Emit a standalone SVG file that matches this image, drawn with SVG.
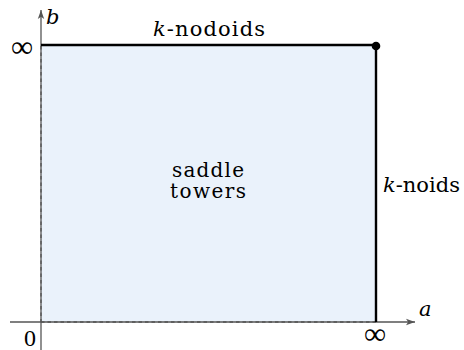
<svg xmlns="http://www.w3.org/2000/svg" width="464" height="350" viewBox="0 0 464 350">
  <defs>
    <marker id="arrow" markerWidth="10" markerHeight="8" refX="9" refY="4" orient="auto" markerUnits="userSpaceOnUse">
      <path d="M0,0.8 L9,4 L0,7.2 L2.2,4 Z" fill="#555"/>
    </marker>
    <style>
      .axis { stroke: #555; stroke-width: 1.3; fill: none; }
      .dash { stroke: #555; stroke-width: 1.3; stroke-dasharray: 3.5 3; fill: none; }
      .edge { stroke: #000; stroke-width: 2.4; fill: none; }
      .lbl { font-size: 21px; fill: #000; }
      .mid { font-size: 20px; fill: #000; }
      .inf { font-size: 31px; fill: #000; }
      .it { font-style: italic; }
    </style>
  </defs>

  <!-- parameter region -->
  <g id="region">
    <rect x="41" y="45" width="335" height="277" fill="#eaf2fb"/>
    <text class="mid" font-family="'DejaVu Serif', 'Liberation Serif', serif" x="208" y="177" text-anchor="middle" textLength="72">saddle</text>
    <text class="mid" font-family="'DejaVu Serif', 'Liberation Serif', serif" x="208" y="198" text-anchor="middle" textLength="76">towers</text>
  </g>

  <!-- axes -->
  <g id="axes">
    <line class="axis" x1="10" y1="322" x2="415" y2="322" marker-end="url(#arrow)"/>
    <line class="axis" x1="41" y1="350" x2="41" y2="10" marker-end="url(#arrow)"/>
    <text class="lbl it" font-family="'DejaVu Serif', 'Liberation Serif', serif" x="419" y="316">a</text>
    <text class="lbl it" font-family="'DejaVu Serif', 'Liberation Serif', serif" x="46" y="24">b</text>
    <text font-size="24" font-family="'Liberation Serif', 'DejaVu Serif', serif" x="24" y="346">0</text>
    <text class="inf" font-family="'Liberation Serif', 'DejaVu Serif', serif" x="22" y="57" text-anchor="middle">∞</text>
    <text class="inf" font-family="'Liberation Serif', 'DejaVu Serif', serif" x="375" y="344" text-anchor="middle">∞</text>
  </g>

  <!-- region boundary -->
  <g id="connectors">
    <line class="dash" x1="41" y1="46" x2="41" y2="322"/>
    <line class="dash" x1="41" y1="322" x2="376" y2="322"/>
    <line class="edge" x1="41" y1="45" x2="376" y2="45"/>
    <line class="edge" x1="376" y1="45" x2="376" y2="322"/>
  </g>

  <g id="corner">
    <circle cx="376" cy="46" r="4.3" fill="#000"/>
  </g>

  <g id="labels">
    <text class="lbl" font-family="'DejaVu Serif', 'Liberation Serif', serif" x="209" y="36" text-anchor="middle" textLength="112"><tspan class="it">k</tspan>-nodoids</text>
    <text class="lbl" font-family="'DejaVu Serif', 'Liberation Serif', serif" x="383" y="192"><tspan class="it">k</tspan>-noids</text>
  </g>
</svg>
